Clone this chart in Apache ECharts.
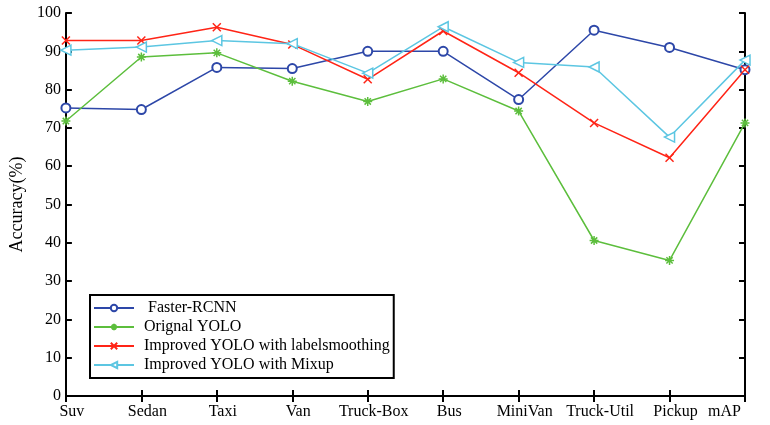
<!DOCTYPE html>
<html>
<head>
<meta charset="utf-8">
<script src="https://cdn.jsdelivr.net/npm/echarts@6/dist/echarts.min.js"></script>
<style>html,body{margin:0;padding:0;background:#fff}#c{width:770px;height:425px}</style>
</head>
<body>
<div id="c"></div>
<script>
const categories = ['Suv','Sedan','Taxi','Van','Truck-Box','Bus','MiniVan','Truck-Util','Pickup','mAP'];
const fasterRCNN = [75.2, 74.8, 85.8, 85.5, 90.0, 90.0, 77.4, 95.5, 91.0, 85.2];
const orignalYOLO = [71.8, 88.5, 89.6, 82.2, 76.9, 82.8, 74.4, 40.6, 35.4, 71.3];
const yoloLabelSmoothing = [92.8, 92.8, 96.3, 91.8, 82.7, 95.3, 84.4, 71.3, 62.2, 85.2];
const yoloMixup = [90.3, 91.1, 92.8, 92.0, 84.3, 96.4, 87.1, 85.9, 67.6, 87.7];
const yTicks = [0,10,20,30,40,50,60,70,80,90,100];

const FONT = 'Liberation Serif';
const chart = echarts.init(document.getElementById('c'), null, {renderer:'canvas'});
const axisLine = {show:true, lineStyle:{color:'#000', width:2}};
const tick = {show:true, inside:true, length:6, lineStyle:{color:'#000', width:2}};
const xData = categories.map((c,i)=> i===categories.length-1 ? {value:c, textStyle:{align:'right', padding:[0,4,0,0]}} : c);

function mk(name, data, color, symbol, size, fill){
  return {
    name, type:'line', data, symbol, symbolSize:size,
    lineStyle:{color, width:1.5},
    itemStyle:{color: fill || color, borderColor:color, borderWidth:1.5},
    emphasis:{disabled:true}, animation:false
  };
}

chart.setOption({
  animation:false,
  backgroundColor:'#fff',
  grid:{left:63, right:25, top:13, bottom:29},
  legend:{
    orient:'vertical', left:90, top:295,
    itemWidth:40, itemHeight:8, itemGap:3,
    borderColor:'#000', borderWidth:2,
    padding:[5,4,5,3],
    textStyle:{fontFamily:FONT, fontSize:16, color:'#000', lineHeight:16, padding:[0,0,0,5]},
    data:[' Faster-RCNN','Orignal YOLO','Improved YOLO with labelsmoothing','Improved YOLO with Mixup']
  },
  xAxis:[
    {type:'category', data:xData, boundaryGap:false, position:'bottom',
     axisLine, axisTick:tick,
     axisLabel:{fontFamily:FONT, fontSize:16, color:'#000', margin:8, padding:[0,0,0,12], interval:0},
     splitLine:{show:false}},
    {type:'category', data:categories, boundaryGap:false, position:'top',
     axisLine, axisTick:tick, axisLabel:{show:false}, splitLine:{show:false}}
  ],
  yAxis:[
    {type:'value', min:0, max:100, interval:10, position:'left',
     name:'Accuracy(%)', nameLocation:'middle', nameGap:32,
     nameTextStyle:{fontFamily:FONT, fontSize:18, color:'#000'},
     axisLine, axisTick:tick,
     axisLabel:{fontFamily:FONT, fontSize:16, color:'#000', margin:5,
       formatter:v=> yTicks.includes(v) ? String(v) : ''},
     splitLine:{show:false}},
    {type:'value', min:0, max:100, interval:10, position:'right',
     axisLine, axisTick:tick, axisLabel:{show:false}, splitLine:{show:false}}
  ],
  series:[
    mk(' Faster-RCNN', fasterRCNN, '#2D47A8', 'emptyCircle', 9),
    mk('Orignal YOLO', orignalYOLO, '#5CBE3C', 'path://M0,5L10,5M5,0L5,10M1.5,1.5L8.5,8.5M1.5,8.5L8.5,1.5', 9),
    mk('Improved YOLO with labelsmoothing', yoloLabelSmoothing, '#FF2416', 'path://M0,0L10,10M0,10L10,0', 8),
    mk('Improved YOLO with Mixup', yoloMixup, '#5CC6E2', 'path://M10,0L0,5L10,10Z', 10, '#fff')
  ]
});
</script>
</body>
</html>
